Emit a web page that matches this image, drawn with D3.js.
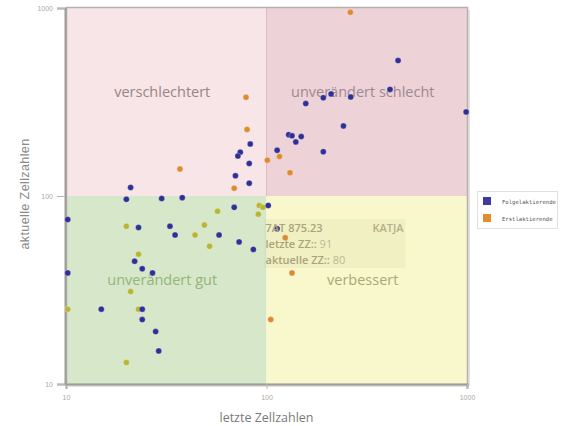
<!DOCTYPE html>
<html>
<head>
<meta charset="utf-8">
<script src="https://cdn.jsdelivr.net/npm/d3@7"></script>
<style>
  body { margin: 0; background: #fff; }
  svg { display: block; }
</style>
</head>
<body>
<svg id="chart" width="563" height="426"></svg>
<script>
// Folgelaktierende (blau): letzte / aktuelle Zellzahlen
var folgeLetzte  = [83, 74, 72, 82, 70, 82, 21, 113, 20, 30, 38, 453, 413, 210, 192, 263, 157, 990, 242, 129, 134, 149, 140, 192, 69, 102, 10.2, 23, 33, 35, 58, 73, 86, 22, 24, 27, 10.2, 15, 24, 24, 28, 29, 113];
var folgeAktuell = [189, 171, 163, 149, 128, 117, 111, 175, 96, 97, 98, 525, 369, 349, 333, 336, 310, 280, 236, 212, 209, 207, 194, 172, 87, 89, 75, 68, 69, 62, 62, 57, 52, 45, 41, 39, 39, 25, 25, 22, 19, 15, 67];
// Erstlaktierende (orange)
var erstLetzte  = [79, 80, 37, 69, 101, 116, 131, 262, 20, 49, 44, 57, 92, 96, 91, 52, 23, 21, 10.2, 23, 20, 105, 134, 124];
var erstAktuell = [335, 226, 139, 110, 155, 162, 133, 949, 69, 70, 62, 83, 89, 87, 80, 54, 49, 31, 25, 25, 13, 22, 39, 60];

var tickValues = [10, 100, 1000];
var quadrants = [
  {name: "verschlechtert",       x0: 10,  x1: 100,  y0: 100, y1: 1000, fill: "#f7e5e7", text: "#978587"},
  {name: "unverändert schlecht", x0: 100, x1: 1000, y0: 100, y1: 1000, fill: "#edd2d8", text: "#a08890"},
  {name: "unverändert gut",      x0: 10,  x1: 100,  y0: 10,  y1: 100,  fill: "#d7e7c9", text: "#93b57a"},
  {name: "verbessert",           x0: 100, x1: 1000, y0: 10,  y1: 100,  fill: "#f9f8cc", text: "#aea77a"}
];
var legendNames = ["Folgelaktierende", "Erstlaktierende"];
var tooltipLines = [["7AT 875.23", "KATJA"], ["letzte ZZ::", "91"], ["aktuelle ZZ::", "80"]];

var svg = d3.select("#chart");
var x = d3.scaleLog().domain([10, 1000]).range([66, 467]);
var y = d3.scaleLog().domain([10, 1000]).range([384, 8]);

// Quadranten
svg.selectAll(".quad").data(quadrants).enter().append("rect")
  .attr("class", "quad")
  .attr("x", d => x(d.x0)).attr("y", d => y(d.y1))
  .attr("width", d => x(d.x1) - x(d.x0)).attr("height", d => y(d.y0) - y(d.y1))
  .attr("fill", d => d.fill);
svg.append("line")
  .attr("x1", x(100)).attr("x2", x(100)).attr("y1", y(1000)).attr("y2", y(100))
  .attr("stroke", "#dcbcc2").attr("stroke-width", 1);

// Quadrantenbeschriftung
svg.selectAll(".qlabel").data(quadrants).enter().append("text")
  .attr("class", "qlabel")
  .attr("x", d => (x(d.x0) + x(d.x1)) / 2 - 4)
  .attr("y", d => (y(d.y0) + y(d.y1)) / 2 - 5)
  .attr("text-anchor", "middle")
  .attr("font-family", "'Open Sans', sans-serif")
  .attr("font-size", 14.5)
  .attr("fill", d => d.text)
  .text(d => d.name);

// Rahmen
svg.append("rect")
  .attr("x", x(10) + 0.5).attr("y", y(1000) - 0.5)
  .attr("width", x(1000) - x(10)).attr("height", y(10) - y(1000) + 1)
  .attr("fill", "none").attr("stroke", "#b5b0ad").attr("stroke-width", 1.5);
svg.append("line")
  .attr("x1", x(1000) + 2).attr("x2", x(1000) + 2).attr("y1", y(1000) + 2).attr("y2", y(10) + 2)
  .attr("stroke", "#d8d6d4").attr("stroke-width", 1.5);
svg.append("line")
  .attr("x1", x(10) + 2).attr("x2", x(1000) + 2).attr("y1", y(10) + 2).attr("y2", y(10) + 2)
  .attr("stroke", "#d8d6d4").attr("stroke-width", 1.5);

// Achsen
var fmt = d3.format("d");
var xAxis = svg.append("g")
  .attr("transform", "translate(0," + y(10) + ")")
  .call(d3.axisBottom(x).tickValues(tickValues).tickFormat(fmt).tickSize(5).tickPadding(6));
var yAxis = svg.append("g")
  .attr("transform", "translate(" + (x(10) - 1) + ",0)")
  .call(d3.axisLeft(y).tickValues(tickValues).tickFormat(fmt).tickSize(8).tickPadding(4));
[xAxis, yAxis].forEach(function(g){
  g.select(".domain").attr("stroke", "#a09c98").attr("stroke-width", 2);
  g.selectAll(".tick line").attr("stroke", "#b8b8b8");
  g.selectAll(".tick text").attr("fill", "#aaa").attr("font-size", 7)
    .attr("font-family", "'Liberation Sans', Arial, sans-serif");
});

svg.append("text")
  .attr("x", (x(10) + x(1000)) / 2).attr("y", 422)
  .attr("text-anchor", "middle")
  .attr("font-family", "'Open Sans', sans-serif").attr("font-size", 12.5)
  .attr("fill", "#7a7a7a")
  .text("letzte Zellzahlen");
svg.append("text")
  .attr("transform", "translate(29," + 194 + ") rotate(-90)")
  .attr("text-anchor", "middle")
  .attr("font-family", "'Liberation Sans', Arial, sans-serif").attr("font-size", 12.5)
  .attr("letter-spacing", 0.4)
  .attr("fill", "#8a8a8a")
  .text("aktuelle Zellzahlen");

// Punkte
var blue = "#302f96", orange = "#e08a30", olive = "#b8b534";
function erstColor(d){
  return (d.x < 100 && d.y < 100) ? olive : orange;
}
var folge = folgeLetzte.map((v, i) => ({x: v, y: folgeAktuell[i]}));
var erst = erstLetzte.map((v, i) => ({x: v, y: erstAktuell[i]}));

svg.selectAll(".erst").data(erst).enter().append("circle")
  .attr("class", "erst")
  .attr("cx", d => x(d.x)).attr("cy", d => y(d.y)).attr("r", 3)
  .attr("fill", erstColor)
  .attr("stroke", "rgba(255,255,255,0.35)").attr("stroke-width", 0.8);
svg.selectAll(".folge").data(folge).enter().append("circle")
  .attr("class", "folge")
  .attr("cx", d => x(d.x)).attr("cy", d => y(d.y)).attr("r", 3)
  .attr("fill", blue)
  .attr("stroke", "rgba(255,255,255,0.35)").attr("stroke-width", 0.8);

// Tooltip
var tip = svg.append("g").attr("transform", "translate(" + (x(100) - 2) + ",219)");
tip.append("rect")
  .attr("width", 141).attr("height", 49)
  .attr("fill", "rgba(170,170,110,0.09)");
tooltipLines.forEach(function(line, i){
  var t = tip.append("text")
    .attr("x", 1).attr("y", 13 + i * 16)
    .attr("font-family", "'Open Sans', sans-serif").attr("font-size", 11)
    .attr("fill", "#aaa37c");
  if (i == 0) {
    t.attr("font-weight", 600).text(line[0]);
    tip.append("text")
      .attr("x", 139).attr("y", 13)
      .attr("text-anchor", "end")
      .attr("font-family", "'Open Sans', sans-serif").attr("font-size", 11).attr("font-weight", 600)
      .attr("fill", "#b5ae8a")
      .text(line[1]);
  } else {
    t.append("tspan").attr("font-weight", 600).text(line[0]);
    t.append("tspan").attr("fill", "#bdb795").text(" " + line[1]);
  }
});

// Legende
var legend = svg.append("g").attr("transform", "translate(477,191)");
legend.append("rect")
  .attr("x", 0.5).attr("y", 0.5).attr("width", 80).attr("height", 37)
  .attr("fill", "#fff").attr("stroke", "#e0e0e0");
var items = legend.selectAll(".item").data(legendNames).enter().append("g")
  .attr("transform", (d, i) => "translate(6," + (6 + i * 17) + ")");
items.append("rect")
  .attr("width", 8).attr("height", 8)
  .attr("fill", (d, i) => i == 0 ? "#3a3aa0" : "#e48c2c");
items.append("text")
  .attr("x", 19).attr("y", 6.5)
  .attr("font-family", "'DejaVu Sans Mono', monospace").attr("font-size", 5.6)
  .attr("fill", "#555")
  .text(d => d);
</script>
</body>
</html>
